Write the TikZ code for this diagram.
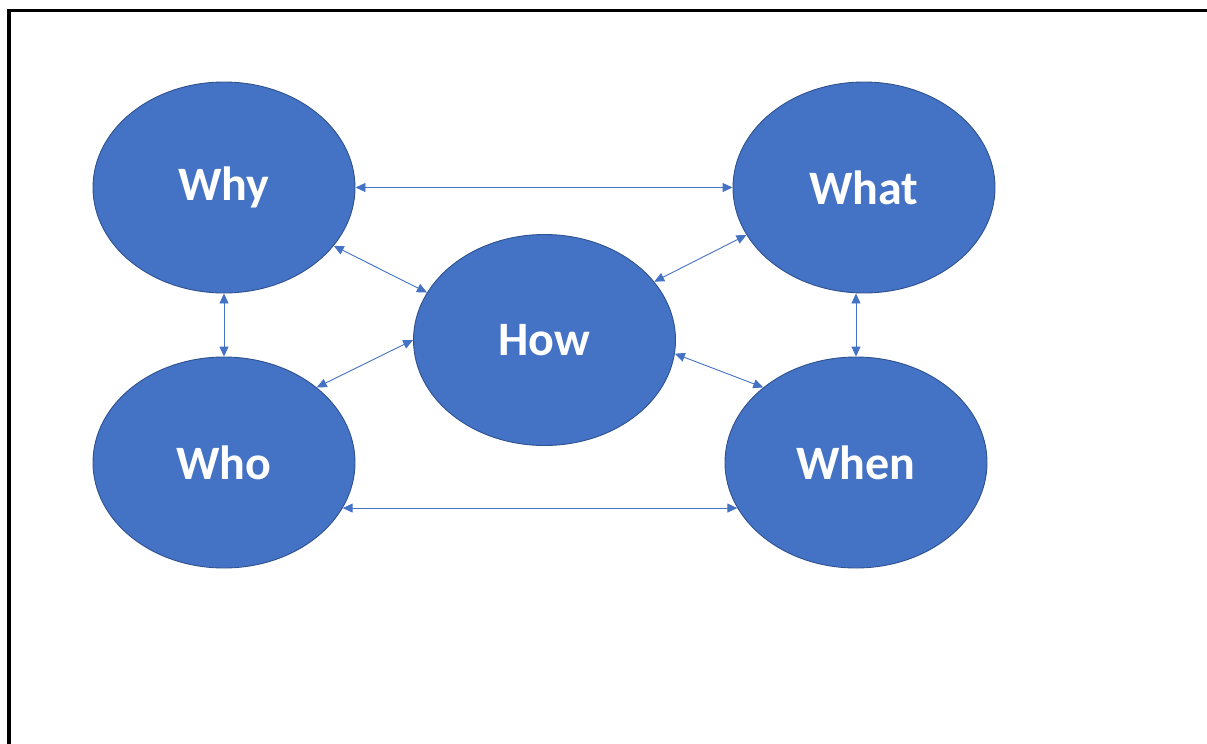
\documentclass[tikz,border=0pt]{standalone}
\usepackage{fontspec}
\setmainfont{Carlito}
\usetikzlibrary{shapes.geometric,arrows.meta}
\definecolor{offblue}{HTML}{4472C4}
\definecolor{offedge}{HTML}{2F528F}
\begin{document}
\begin{tikzpicture}[x=1pt,y=-1pt,
  bubble/.style={ellipse,draw=offedge,line width=0.9pt,fill=offblue,
    minimum width=262pt,minimum height=211pt,inner sep=0pt,
    text=white,font=\fontsize{48}{52}\selectfont\bfseries},
  link/.style={draw=offblue,line width=0.9pt,
    {Triangle[length=10pt,width=9pt]}-{Triangle[length=10pt,width=9pt]}}]
\useasboundingbox (0,0) rectangle (1207,744);
\draw[line width=3.5pt] (9,744) -- (9,10.5) -- (1207,10.5);
\node[bubble] (why) at (224,187.5) {Why};
\node[bubble] (what) at (864,187.5) {What};
\node[bubble] (how) at (544.5,340) {How};
\node[bubble] (who) at (224,462.5) {Who};
\node[bubble] (when) at (856,462.5) {When};
\draw[link] (why.east) -- (what.west);
\draw[link] (why) -- (who);
\draw[link] (when.north |- what.south) -- (when.north);
\draw[link] (who.-21) -- (when.201);
\draw[link] (why.-28) -- (how.158.5);
\draw[link] (how.28) -- (what.202.4);
\draw[link] (who.39) -- (how.west);
\draw[link] (how.-6.5) -- (when.141);
\end{tikzpicture}
\end{document}
